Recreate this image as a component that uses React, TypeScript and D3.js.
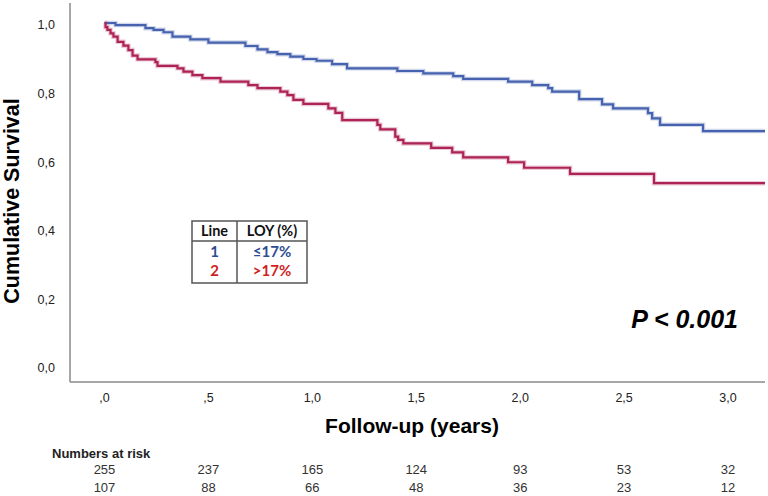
import React from "react";
import * as d3 from "d3";

const xTicks = [0, 0.5, 1, 1.5, 2, 2.5, 3];
const yTicks = [0, 0.2, 0.4, 0.6, 0.8, 1.0];
const endTime = 3.178;

const blueTimes = [0, 0.053, 0.197, 0.236, 0.284, 0.327, 0.413, 0.5, 0.678, 0.736, 0.784, 0.832, 0.894, 0.957, 1.02, 1.095, 1.167, 1.409, 1.534, 1.678, 1.726, 1.942, 2.058, 2.135, 2.154, 2.284, 2.394, 2.447, 2.615, 2.635, 2.673, 2.88];
const blueSurv = [1.0, 0.994, 0.985, 0.98, 0.973, 0.96, 0.952, 0.943, 0.933, 0.923, 0.915, 0.909, 0.902, 0.895, 0.89, 0.88, 0.868, 0.86, 0.853, 0.845, 0.837, 0.829, 0.819, 0.81, 0.8, 0.778, 0.763, 0.751, 0.737, 0.722, 0.703, 0.685];

const redTimes = [0, 0.005, 0.014, 0.029, 0.043, 0.063, 0.091, 0.115, 0.135, 0.159, 0.245, 0.255, 0.351, 0.38, 0.423, 0.471, 0.558, 0.692, 0.736, 0.846, 0.88, 0.909, 0.957, 1.077, 1.111, 1.144, 1.313, 1.327, 1.399, 1.413, 1.438, 1.572, 1.673, 1.726, 1.942, 2.019, 2.24, 2.644];
const redSurv = [1.0, 0.988, 0.98, 0.97, 0.96, 0.945, 0.934, 0.921, 0.905, 0.894, 0.886, 0.875, 0.868, 0.858, 0.848, 0.839, 0.829, 0.819, 0.81, 0.8, 0.79, 0.776, 0.764, 0.751, 0.738, 0.717, 0.703, 0.69, 0.669, 0.659, 0.649, 0.636, 0.623, 0.608, 0.594, 0.578, 0.56, 0.533];

const riskTimes = [0, 0.5, 1, 1.5, 2, 2.5, 3];
const riskGroup1 = [255, 237, 165, 124, 93, 53, 32];
const riskGroup2 = [107, 88, 66, 48, 36, 23, 12];

const legendLines = ["1", "2"];
const legendLabels = ["≤17%", ">17%"];

const BLUE = "#4762ae";
const RED = "#ae2356";
const AXIS = "#8a8a8a";

function fmtX(v: number) {
  const s = d3.format(".1f")(v).replace(".", ",");
  return s.startsWith("0,") ? s.slice(1) : s;
}
function fmtY(v: number) {
  return d3.format(".1f")(v).replace(".", ",");
}

export default function App() {
  const x = d3.scaleLinear().domain([0, 3]).range([104.5, 728]);
  const y = d3.scaleLinear().domain([0, 1]).range([366, 23]);

  const mk = (ts: number[], ss: number[]) => {
    const pts: [number, number][] = ts.map((t, i) => [t, ss[i]]);
    pts.push([endTime, ss[ss.length - 1]]);
    return d3
      .line<[number, number]>()
      .x((d) => x(d[0]))
      .y((d) => y(d[1]))
      .curve(d3.curveStepAfter)(pts) as string;
  };
  const bluePath = mk(blueTimes, blueSurv);
  const redPath = mk(redTimes, redSurv);

  const font = "'Liberation Sans', Arial, sans-serif";
  const lfont = "Lato, 'Open Sans', sans-serif";

  const lx0 = 192, lx1 = 237, lx2 = 307;
  const ly0 = 221, ly1 = 241, ly2 = 283;
  const rowY = [252, 271];

  return (
    <div style={{ position: "absolute", left: 0, top: 0 }}>
      <svg width={768} height={496} style={{ display: "block", background: "#fff" }}>
        <line x1={70} y1={3} x2={70} y2={382} stroke={AXIS} strokeWidth={1.5} />
        <line x1={70} y1={382} x2={765} y2={382} stroke={AXIS} strokeWidth={1.5} />

        {yTicks.map((v) => (
          <text key={"y" + v} x={55} y={y(v) + 2} dy="0.35em" textAnchor="end" fontFamily={font} fontSize={12.5} fill="#222">
            {fmtY(v)}
          </text>
        ))}
        {xTicks.map((v) => (
          <text key={"x" + v} x={x(v)} y={402} textAnchor="middle" fontFamily={font} fontSize={12.5} fill="#222">
            {fmtX(v)}
          </text>
        ))}

        <path d={bluePath} fill="none" stroke={BLUE} strokeOpacity={0.25} strokeWidth={4.5} />
        <path d={redPath} fill="none" stroke={RED} strokeOpacity={0.25} strokeWidth={4.5} />
        <path d={bluePath} fill="none" stroke={BLUE} strokeWidth={2.2} />
        <path d={redPath} fill="none" stroke={RED} strokeWidth={2.2} />

        <text x={412} y={433} textAnchor="middle" fontFamily={font} fontWeight="bold" fontSize={21} fill="#000">
          Follow-up (years)
        </text>
        <text transform="translate(19,201) rotate(-90)" textAnchor="middle" fontFamily={font} fontWeight="bold" fontSize={21.5} fill="#000">
          Cumulative Survival
        </text>

        <text x={738} y={328} textAnchor="end" fontFamily={font} fontWeight="bold" fontStyle="italic" fontSize={25} fill="#000">
          P &lt; 0.001
        </text>

        <rect x={lx0} y={ly0} width={lx2 - lx0} height={ly2 - ly0} fill="#fff" stroke="#555" strokeWidth={1.5} />
        <line x1={lx1} y1={ly0} x2={lx1} y2={ly2} stroke="#555" strokeWidth={1.5} />
        <line x1={lx0} y1={ly1} x2={lx2} y2={ly1} stroke="#555" strokeWidth={1.5} />
        <text x={(lx0 + lx1) / 2} y={231} dy="0.35em" textAnchor="middle" fontFamily={lfont} fontWeight="bold" fontSize={14.5} fill="#111">
          Line
        </text>
        <text x={(lx1 + lx2) / 2} y={231} dy="0.35em" textAnchor="middle" fontFamily={lfont} fontWeight="bold" fontSize={14.5} fill="#111">
          LOY (%)
        </text>
        {legendLines.map((l, i) => (
          <g key={l}>
            <text x={(lx0 + lx1) / 2} y={rowY[i]} dy="0.35em" textAnchor="middle" fontFamily={lfont} fontWeight="bold" fontSize={15} fill={i === 0 ? "#2e4d92" : "#d01e1e"}>
              {l}
            </text>
            <text x={(lx1 + lx2) / 2} y={rowY[i]} dy="0.35em" textAnchor="middle" fontFamily={lfont} fontWeight="bold" fontSize={15} fill={i === 0 ? "#2e4d92" : "#d01e1e"}>
              {legendLabels[i]}
            </text>
          </g>
        ))}

        <text x={52} y={458} fontFamily={font} fontWeight="bold" fontSize={13} fill="#222">
          Numbers at risk
        </text>
        {riskTimes.map((t, i) => (
          <g key={"r" + t}>
            <text x={x(t)} y={474} textAnchor="middle" fontFamily={font} fontSize={13} fill="#333">
              {riskGroup1[i]}
            </text>
            <text x={x(t)} y={492} textAnchor="middle" fontFamily={font} fontSize={13} fill="#333">
              {riskGroup2[i]}
            </text>
          </g>
        ))}
      </svg>
    </div>
  );
}
